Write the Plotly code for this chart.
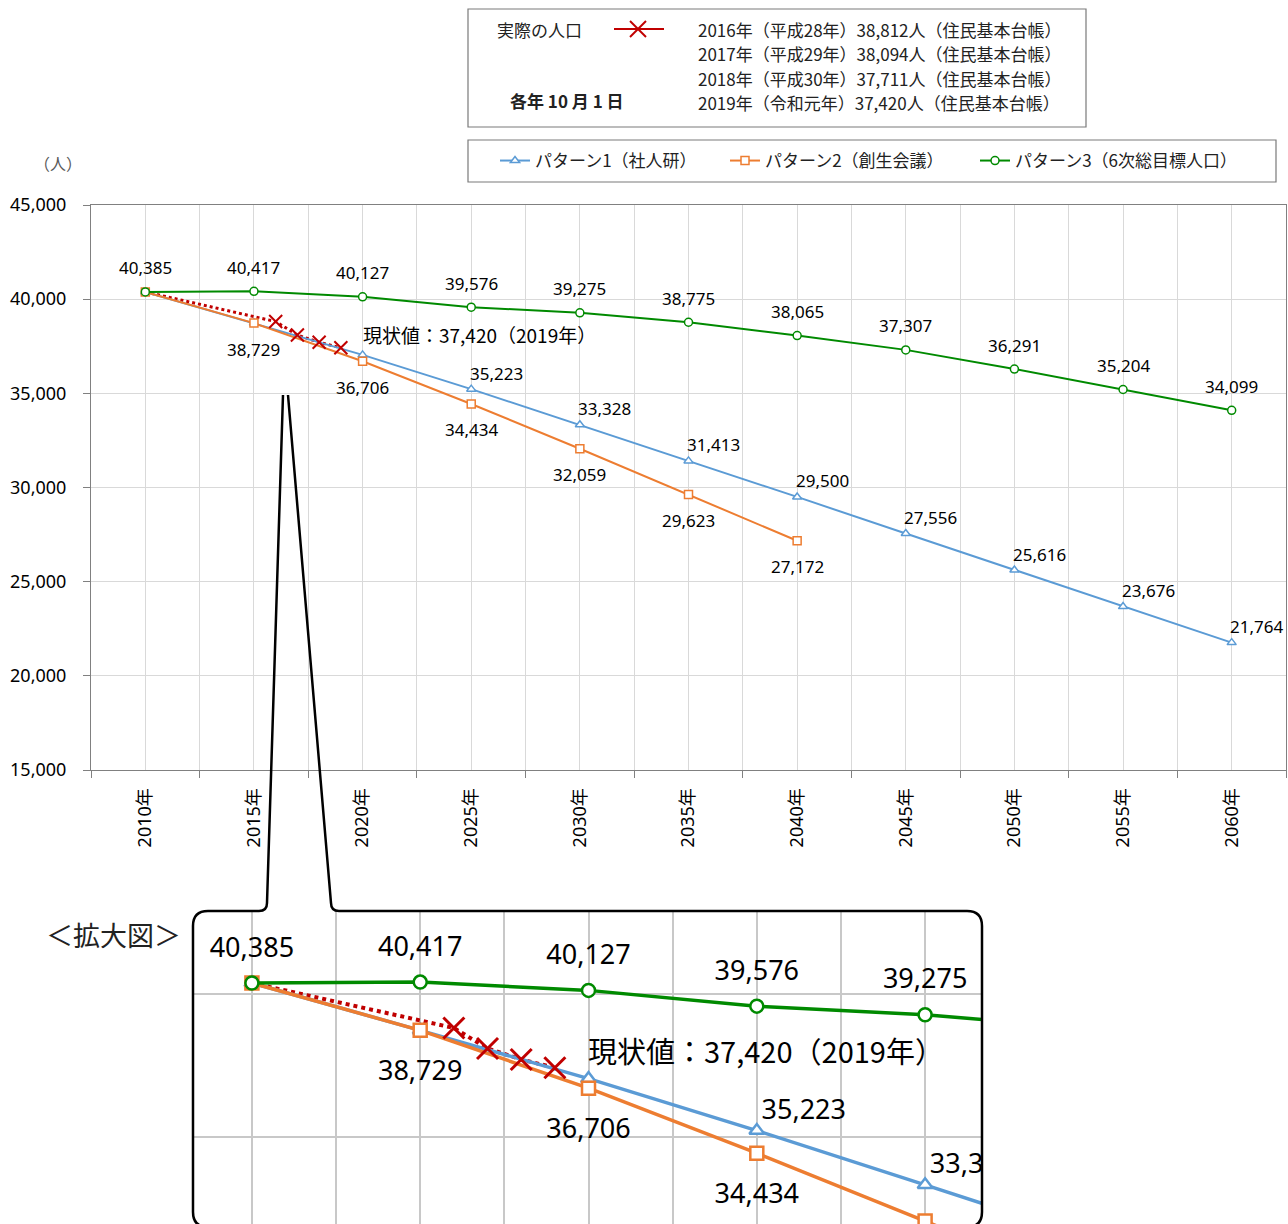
import plotly.graph_objects as go

# ---- data -------------------------------------------------------------
years = [2010, 2015, 2020, 2025, 2030, 2035, 2040, 2045, 2050, 2055, 2060]
year_labels = [f"{y}年" for y in years]

pattern1 = [40385, 38729, 37040, 35223, 33328, 31413, 29500, 27556, 25616, 23676, 21764]
pattern2_years = [2010, 2015, 2020, 2025, 2030, 2035, 2040]
pattern2 = [40385, 38729, 36706, 34434, 32059, 29623, 27172]
pattern3 = [40385, 40417, 40127, 39576, 39275, 38775, 38065, 37307, 36291, 35204, 34099]

actual_years = [2016, 2017, 2018, 2019]
actual_values = [38812, 38094, 37711, 37420]
actual_eras = ["平成28年", "平成29年", "平成30年", "令和元年"]

series_names = ["パターン1（社人研）", "パターン2（創生会議）", "パターン3（6次総目標人口）"]

# the enlarged view covers 2010-2030
inset_last_year = 2030

# ---- style ------------------------------------------------------------
W, H = 1288, 1224
BLUE, ORANGE, GREEN, RED = "#5b9bd5", "#ed7d31", "#008a00", "#c00000"
FONT = "Noto Sans, Noto Sans CJK JP, sans-serif"
CJK = "Noto Sans CJK JP, sans-serif"


def px(x):
    return x / W


def py(y):
    return 1 - y / H


def fmt(v):
    return f"{v:,}"


fig = go.Figure()

# ---- main chart -------------------------------------------------------
fig.add_trace(go.Scatter(
    x=[years[0]] + actual_years, y=[pattern3[0]] + actual_values,
    mode="lines", line=dict(color=RED, width=3, dash="dot"),
    showlegend=False, hoverinfo="skip", xaxis="x", yaxis="y"))

specs = [
    (years, pattern1, BLUE, "triangle-up", series_names[0], 185),
    (pattern2_years, pattern2, ORANGE, "square", series_names[1], 205),
    (years, pattern3, GREEN, "circle", series_names[2], None),
]
for xs, ys, col, sym, name, lw in specs:
    fig.add_trace(go.Scatter(
        x=xs, y=ys, mode="lines+markers", name=name,
        line=dict(color=col, width=2),
        marker=dict(symbol=sym, size=8, color="white", line=dict(color=col, width=1.5)),
        legendwidth=lw, xaxis="x", yaxis="y"))

fig.add_trace(go.Scatter(
    x=actual_years, y=actual_values, mode="markers",
    marker=dict(symbol="x-thin", size=13, line=dict(color=RED, width=2)),
    showlegend=False, xaxis="x", yaxis="y"))

annotations = []
label_font = dict(family=FONT, size=17, color="#000000")
for x, v in zip(years, pattern3):
    annotations.append(dict(x=x, y=v, xref="x", yref="y", text=fmt(v), showarrow=False,
                            xanchor="center", yanchor="middle", yshift=24, font=label_font))
for x, v in zip(pattern2_years[1:], pattern2[1:]):
    annotations.append(dict(x=x, y=v, xref="x", yref="y", text=fmt(v), showarrow=False,
                            xanchor="center", yanchor="middle", yshift=-26, font=label_font))
for x, v in zip(years[3:], pattern1[3:]):
    annotations.append(dict(x=x, y=v, xref="x", yref="y", text=fmt(v), showarrow=False,
                            xanchor="center", yanchor="middle", xshift=25, yshift=16,
                            font=label_font))
annotations.append(dict(x=actual_years[-1], y=actual_values[-1], xref="x", yref="y",
                        text=f"現状値：{fmt(actual_values[-1])}（{actual_years[-1]}年）",
                        showarrow=False, xanchor="left", yanchor="middle",
                        xshift=20, yshift=13, font=dict(family=CJK, size=19, color="#000")))

# ---- enlarged inset ---------------------------------------------------
fig.add_trace(go.Scatter(
    x=[years[0]] + actual_years, y=[pattern3[0]] + actual_values,
    mode="lines", line=dict(color=RED, width=4, dash="dot"),
    showlegend=False, hoverinfo="skip", xaxis="x2", yaxis="y2"))
for xs, ys, col, sym, name, lw in specs:
    fig.add_trace(go.Scatter(
        x=xs, y=ys, mode="lines+markers", name=name,
        line=dict(color=col, width=3.5),
        marker=dict(symbol=sym, size=13, color="white", line=dict(color=col, width=2.5)),
        showlegend=False, xaxis="x2", yaxis="y2"))
fig.add_trace(go.Scatter(
    x=actual_years, y=actual_values, mode="markers",
    marker=dict(symbol="x-thin", size=21, line=dict(color=RED, width=3)),
    showlegend=False, xaxis="x2", yaxis="y2"))


def in_inset(xs, ys):
    pairs = [(x, v) for x, v in zip(xs, ys) if x <= inset_last_year]
    return [p[0] for p in pairs], [p[1] for p in pairs]


inset_font = dict(family=FONT, size=27, color="#000000")
inset_labels = [
    (years, pattern3, "top center", 30),
    (pattern2_years[1:], pattern2[1:], "bottom center", 45),
    (years[3:], pattern1[3:], "top right", 6),
]
for xs, ys, pos, offset in inset_labels:
    lx, ly = in_inset(xs, ys)
    fig.add_trace(go.Scatter(
        x=lx, y=ly, mode="markers+text", text=[fmt(v) for v in ly],
        textposition=pos, textfont=inset_font,
        marker=dict(size=offset, color="rgba(0,0,0,0)"),
        cliponaxis=True, showlegend=False, hoverinfo="skip", xaxis="x2", yaxis="y2"))

annotations.append(dict(x=actual_years[-1], y=actual_values[-1], xref="x2", yref="y2",
                        text=f"現状値：{fmt(actual_values[-1])}（{actual_years[-1]}年）",
                        showarrow=False, xanchor="left", yanchor="middle",
                        xshift=31, yshift=18, font=dict(family=CJK, size=29, color="#000")))

# ---- boxes, legend texts and captions --------------------------------
txt = dict(family=CJK, size=17, color="#222222")
annotations += [
    dict(x=px(495), y=py(29), xref="paper", yref="paper", text="実際の人口",
         showarrow=False, xanchor="left", yanchor="middle", font=txt),
    dict(x=px(567), y=py(100), xref="paper", yref="paper", text="<b>各年 10 月 1 日</b>",
         showarrow=False, xanchor="center", yanchor="middle", font=txt),
    dict(x=px(58), y=py(163), xref="paper", yref="paper", text="（人）",
         showarrow=False, xanchor="center", yanchor="middle",
         font=dict(family=CJK, size=16, color="#595959")),
    dict(x=px(44), y=py(935), xref="paper", yref="paper", text="＜拡大図＞",
         showarrow=False, xanchor="left", yanchor="middle",
         font=dict(family=CJK, size=27, color="#222222")),
]
for i, (yr, era, v) in enumerate(zip(actual_years, actual_eras, actual_values)):
    annotations.append(dict(
        x=px(696), y=py(29 + 24.5 * i), xref="paper", yref="paper",
        text=f"{yr}年（{era}）{fmt(v)}人（住民基本台帳）",
        showarrow=False, xanchor="left", yanchor="middle", font=txt))


def path(cmds):
    out = []
    for c in cmds:
        if isinstance(c, str):
            out.append(c)
        else:
            out.append(f"{px(c[0]):.5f},{py(c[1]):.5f}")
    return " ".join(out)


callout = path([
    "M", (283, 395), "L", (267, 903), "Q", (267, 911), (259, 911),
    "L", (208, 911), "Q", (193, 911), (193, 926),
    "L", (193, 1212), "Q", (193, 1227), (208, 1227),
    "L", (967, 1227), "Q", (982, 1227), (982, 1212),
    "L", (982, 926), "Q", (982, 911), (967, 911),
    "L", (339, 911), "Q", (331, 911), (331, 903), "L", (288, 395),
])

shapes = [
    dict(type="rect", xref="paper", yref="paper", x0=px(468), x1=px(1086), y0=py(127), y1=py(9),
         line=dict(color="#7a7a7a", width=1.2), fillcolor="rgba(0,0,0,0)"),
    dict(type="rect", xref="paper", yref="paper", x0=px(468), x1=px(1276), y0=py(182), y1=py(140),
         line=dict(color="#7a7a7a", width=1.2), fillcolor="rgba(0,0,0,0)"),
    dict(type="line", xref="paper", yref="paper", x0=px(614), x1=px(664), y0=py(29), y1=py(29),
         line=dict(color=RED, width=2)),
    dict(type="line", xref="paper", yref="paper", x0=px(630), x1=px(646), y0=py(21), y1=py(37),
         line=dict(color=RED, width=2)),
    dict(type="line", xref="paper", yref="paper", x0=px(630), x1=px(646), y0=py(37), y1=py(21),
         line=dict(color=RED, width=2)),
    dict(type="path", xref="paper", yref="paper", path=callout, layer="above",
         line=dict(color="#000000", width=2.5), fillcolor="rgba(0,0,0,0)"),
]

GRID = "#d9d9d9"
AXIS = "#808080"

fig.update_layout(
    width=W, height=H, autosize=False,
    margin=dict(l=0, r=0, t=0, b=0, pad=0, autoexpand=False),
    paper_bgcolor="white", plot_bgcolor="white",
    font=dict(family=FONT, size=17, color="#000"),
    xaxis=dict(
        domain=[px(91), px(1286)], range=[2007.5, 2062.5], anchor="y", automargin=False,
        tickmode="array", tickvals=years, ticktext=year_labels, tickangle=-90,
        ticks="outside", ticklen=8, tickcolor="rgba(0,0,0,0)", ticklabelstandoff=2,
        tickfont=dict(family=FONT, size=18, color="#000"),
        showgrid=True, gridcolor=GRID, gridwidth=1,
        minor=dict(tickmode="linear", tick0=2007.5, dtick=5, ticks="outside", ticklen=7,
                   tickcolor=AXIS, showgrid=True, gridcolor=GRID, gridwidth=1),
        showline=True, linecolor=AXIS, linewidth=1, mirror=True, zeroline=False,
    ),
    yaxis=dict(
        domain=[py(770), py(205)], range=[15000, 45000], anchor="x", automargin=False,
        tickmode="linear", tick0=15000, dtick=5000, tickformat=",",
        ticks="outside", ticklen=7, tickcolor=AXIS, ticklabelstandoff=13,
        tickfont=dict(family=FONT, size=18, color="#000"),
        showgrid=True, gridcolor=GRID, gridwidth=1,
        showline=True, linecolor=AXIS, linewidth=1, mirror=True, zeroline=False,
    ),
    xaxis2=dict(
        domain=[px(193), px(982)], range=[2008.25, 2031.69], anchor="y2", automargin=False,
        tickmode="linear", tick0=2010, dtick=2.5, showticklabels=False, ticks="",
        showgrid=True, gridcolor="#c8c8c8", gridwidth=2, zeroline=False, showline=False,
    ),
    yaxis2=dict(
        domain=[0, py(911)], range=[31957, 42903], anchor="x2", automargin=False,
        tickmode="linear", tick0=0, dtick=5000, showticklabels=False, ticks="",
        showgrid=True, gridcolor="#c8c8c8", gridwidth=2, zeroline=False, showline=False,
    ),
    legend=dict(
        orientation="h", x=px(495), y=py(161), xanchor="left", yanchor="middle",
        bgcolor="rgba(0,0,0,0)", borderwidth=0,
        font=dict(family=CJK, size=17, color="#222222"),
    ),
    annotations=annotations,
    shapes=shapes,
    hovermode=False,
)

fig.write_html("out.html", config={"displayModeBar": False})
